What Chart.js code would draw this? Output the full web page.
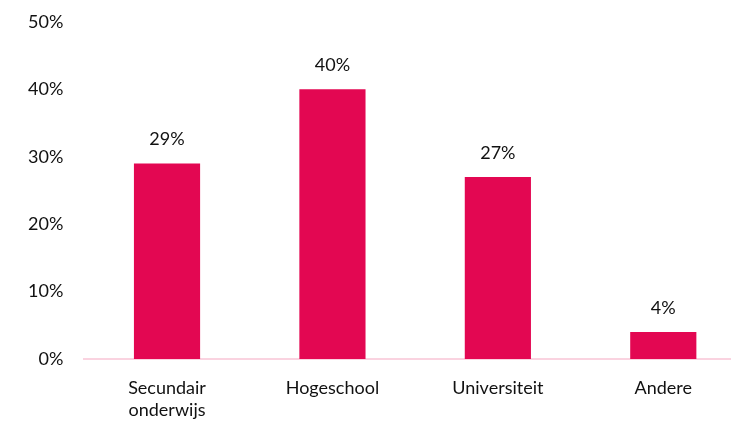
<!DOCTYPE html>
<html>
<head>
<meta charset="utf-8">
<script src="https://cdn.jsdelivr.net/npm/chart.js@4"></script>
<style>
  html, body { margin: 0; padding: 0; background: #fff; overflow: hidden; }
  body { width: 731px; height: 422px; position: relative; }
  #wrap { position: absolute; left: 0; top: -10px; width: 746px; height: 432px; }
</style>
</head>
<body>
<div id="wrap"><canvas id="grafiek"></canvas></div>
<script>
const categorieen = [['Secundair', 'onderwijs'], 'Hogeschool', 'Universiteit', 'Andere'];
const aandelen = [29, 40, 27, 4];
const yTicks = [0, 10, 20, 30, 40, 50];

const kleurBalk = '#E30752';
const kleurAs = '#FAD3E0';
const lettertype = 'Lato, sans-serif';

// labels boven de balken
const waardeLabels = {
  id: 'waardeLabels',
  afterDatasetsDraw(chart) {
    const ctx = chart.ctx;
    const meta = chart.getDatasetMeta(0);
    ctx.save();
    ctx.font = '18px ' + lettertype;
    ctx.fillStyle = '#111';
    ctx.textAlign = 'center';
    ctx.textBaseline = 'middle';
    meta.data.forEach(function (bar, i) {
      ctx.fillText(aandelen[i] + '%', bar.x, bar.y - 24);
    });
    ctx.restore();
  }
};

document.addEventListener('DOMContentLoaded', function () {
  const ctx = document.getElementById('grafiek').getContext('2d');
  new Chart(ctx, {
    type: 'bar',
    data: {
      labels: categorieen,
      datasets: [{
        data: aandelen,
        backgroundColor: kleurBalk,
        barPercentage: 1,
        categoryPercentage: 0.4
      }]
    },
    options: {
      responsive: true,
      maintainAspectRatio: false,
      animation: false,
      layout: { padding: { top: 6, right: 0, bottom: -17, left: 7 } },
      plugins: { legend: { display: false }, tooltip: { enabled: false } },
      scales: {
        x: {
          grid: { display: false, drawTicks: false },
          border: { display: true, color: kleurAs, width: 2 },
          ticks: {
            color: '#111',
            padding: 18,
            font: { family: lettertype, size: 18, lineHeight: 1.22 }
          }
        },
        y: {
          min: 0,
          max: 50,
          afterBuildTicks: function (axis) {
            axis.ticks = yTicks.map(function (v) { return { value: v }; });
          },
          grid: { display: false, drawTicks: false },
          border: { display: false },
          ticks: {
            color: '#111',
            padding: 21,
            font: { family: lettertype, size: 18 },
            callback: function (v) { return v + '%'; }
          }
        }
      }
    },
    plugins: [waardeLabels]
  });
});
</script>
</body>
</html>
